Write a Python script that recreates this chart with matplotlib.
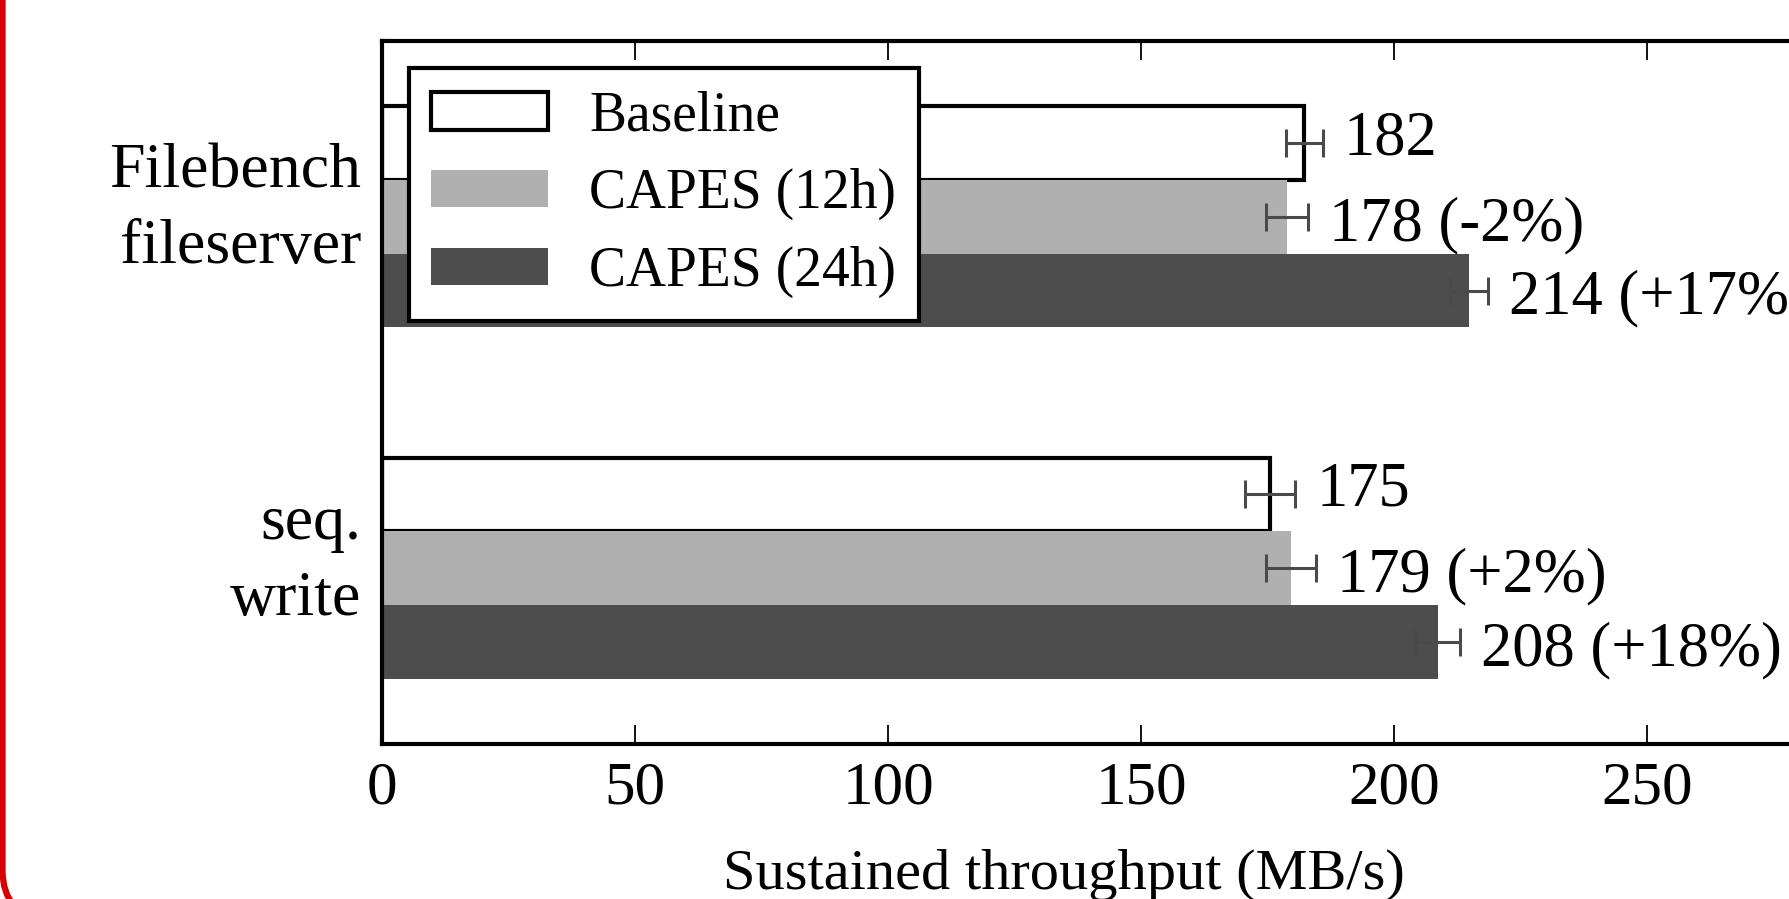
import matplotlib
matplotlib.use("Agg")
import matplotlib.pyplot as plt
import numpy as np
from matplotlib.patches import FancyBboxPatch
from matplotlib.transforms import IdentityTransform, ScaledTranslation

# data
workloads = ["Filebench\nfileserver", "seq.\nwrite"]
series = ["Baseline", "CAPES (12h)", "CAPES (24h)"]
baseline = [182.3, 175.5]
capes_12h = [178.8, 179.6]
capes_24h = [214.8, 208.6]
err_baseline = [3.6, 5.0]
err_12h = [4.2, 5.0]
err_24h = [3.8, 4.5]
labels_baseline = ["182", "175"]
labels_12h = ["178 (-2%)", "179 (+2%)"]
labels_24h = ["214 (+17%)", "208 (+18%)"]

plt.rcParams["font.family"] = ["Liberation Serif", "DejaVu Serif"]

fig = plt.figure(figsize=(17.9, 8.99), dpi=100)
ax = fig.add_axes([0.2134, 1 - 744 / 899, 1.0615 - 0.2134, (744 - 41) / 899])

y = np.arange(len(workloads))
h = 0.21
styles = [
    dict(color="white", edgecolor="black", linewidth=3),
    dict(color="#b0b0b0", edgecolor="none", linewidth=0),
    dict(color="#4d4d4d", edgecolor="none", linewidth=0),
]
vals = [baseline, capes_12h, capes_24h]
errs = [err_baseline, err_12h, err_24h]
texts = [labels_baseline, labels_12h, labels_24h]
offsets = [-h, 0, h]
text_dy = [2.5, -6, -6]  # small vertical nudge of the value labels (pt)

for name, v, e, t, off, st, dy in zip(series, vals, errs, texts, offsets,
                                      styles, text_dy):
    ax.barh(y + off, v, height=h, label=name, **st, zorder=2)
    ax.errorbar(v, y + off, xerr=e, fmt="none", ecolor="#4a4a4a",
                elinewidth=2.2, capsize=10, capthick=2.2, zorder=3)
    for vi, ei, yi, ti in zip(v, e, y + off, t):
        ax.annotate(ti, xy=(vi + ei, yi), xytext=(15, dy),
                    textcoords="offset points", va="center",
                    ha="left", fontsize=45, annotation_clip=False)

ax.set_xlim(0, 300)
ax.set_ylim(1.5, -0.5)
ax.set_xticks([0, 50, 100, 150, 200, 250])
ax.tick_params(axis="x", direction="in", length=14, width=1.3, top=True,
               labelsize=44, pad=12)
ax.tick_params(axis="y", direction="in", length=12, width=1.3, right=True,
               pad=15)
ax.set_yticks(y)
ax.set_yticklabels(workloads, fontsize=46, linespacing=1.4)
# nudge the two-line category labels up a little
for lab in ax.get_yticklabels():
    lab.set_transform(lab.get_transform()
                      + ScaledTranslation(0, 16 / 72, fig.dpi_scale_trans))
for s in ax.spines.values():
    s.set_linewidth(3)

ax.set_xlabel("Sustained throughput (MB/s)", fontsize=42)
ax.xaxis.set_label_coords(0.449, -0.186)
ax.xaxis.label.set_va("center")

leg = ax.legend(loc="upper left", bbox_to_anchor=(0.0176, 0.962),
                borderaxespad=0, fontsize=40, fancybox=False, framealpha=1,
                edgecolor="black", handlelength=2.1, handleheight=0.65,
                handletextpad=0.74, labelspacing=0.46, borderpad=0.41)
leg.get_frame().set_linewidth(3)
leg.set_zorder(5)

# red frame edge of the screenshot (only its left side shows)
frame = FancyBboxPatch((2.5, -18), 4000, 4000,
                       boxstyle="round,pad=0,rounding_size=47",
                       transform=IdentityTransform(), fill=False,
                       edgecolor="#d80000", linewidth=4.5)
fig.patches.append(frame)

fig.savefig("out.png", dpi=100)
